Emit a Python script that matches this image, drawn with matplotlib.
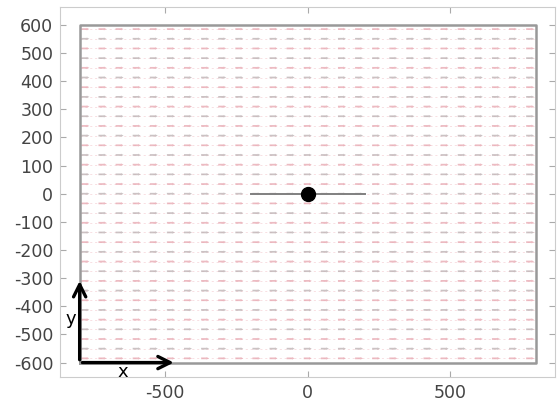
import numpy as np
import matplotlib
matplotlib.use('Agg')
import matplotlib.pyplot as plt

plt.rcParams['axes.unicode_minus'] = False

# domain boundary
box_x = [-800, 800, 800, -800, -800]
box_y = [-600, -600, 600, 600, -600]

# arrow field grid (horizontal field)
field_x = np.arange(-780, 800, 60)
field_y = np.arange(-585, 600, 34.4)
field_u = 1.0
field_v = 0.0

# line charge segment and point
seg_x = [-200, 200]
seg_y = [0, 0]
pt_x = [0]
pt_y = [0]

xticks = [-500, 0, 500]
yticks = list(range(-600, 601, 100))

fig = plt.figure(figsize=(5.58, 4.05), dpi=100)
ax = fig.add_axes([0.108, 0.07, 0.887, 0.912])

X, Y = np.meshgrid(field_x, field_y)
U = np.full_like(X, field_u, dtype=float)
V = np.full_like(X, field_v, dtype=float)
rows = np.arange(len(field_y))[:, None] * np.ones_like(X)
cols = np.where(rows % 2 == 0, '#e8aab3', '#bfb3b5')
ax.quiver(X, Y, U, V, color=cols.ravel(), scale=1 / 28, scale_units='xy',
          width=0.0035, headwidth=1.5, headlength=1.5, headaxislength=1.5,
          pivot='middle', alpha=0.8, zorder=1)
for yy in field_y:
    ax.plot([-800, 800], [yy, yy], color='#f6d3d8', lw=0.5, ls=(0, (3, 4)),
            zorder=0)

ax.plot(box_x, box_y, color='#999999', lw=1.8, zorder=2)
ax.plot(seg_x, seg_y, color='#808080', lw=1.4, zorder=3)
ax.plot(pt_x, pt_y, 'o', color='black', ms=10, zorder=4)

ax.set_xlim(-868, 868)
ax.set_ylim(-650, 662)
ax.set_xticks(xticks)
ax.set_yticks(yticks)
ax.tick_params(direction='in', top=True, right=True, color='#aaaaaa',
               labelcolor='#444444', labelsize=12.5, length=4, pad=5)
for s in ax.spines.values():
    s.set_color('#cccccc')

# coordinate system arrows
arrow = dict(arrowstyle='->', color='black', lw=2.4, mutation_scale=22)
ax.annotate('', xy=(-460, -600), xytext=(-800, -600), arrowprops=arrow,
            zorder=5)
ax.annotate('', xy=(-800, -300), xytext=(-800, -600), arrowprops=arrow,
            zorder=5)
ax.text(-650, -632, 'x', fontsize=13, ha='center', va='center')
ax.text(-830, -445, 'y', fontsize=13, ha='center', va='center')

fig.savefig('out.png', dpi=100)
